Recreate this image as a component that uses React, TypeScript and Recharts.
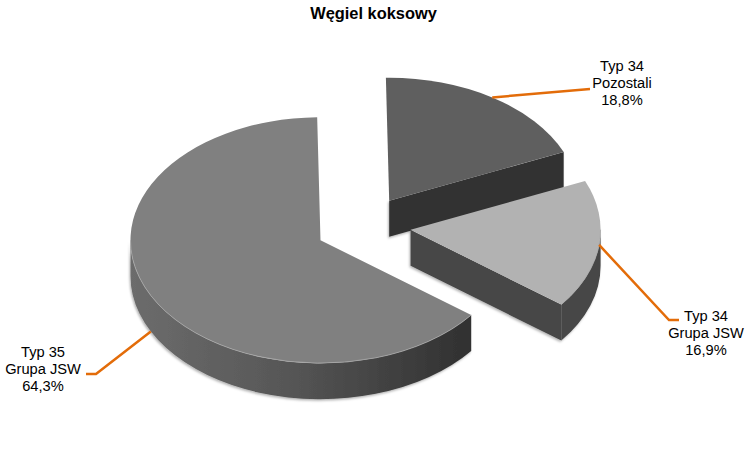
import { Pie, PieChart } from "recharts";

const SLICE_NAMES = ["Typ 34 Pozostali", "Typ 34 Grupa JSW", "Typ 35 Grupa JSW"];
const SLICE_VALUES = [18.8, 16.9, 64.3];
const LABEL_LINES = [
  ["Typ 34", "Pozostali", "18,8%"],
  ["Typ 34", "Grupa JSW", "16,9%"],
  ["Typ 35", "Grupa JSW", "64,3%"],
];

const TOP_COLORS = ["#5f5f5f", "#b2b2b2", "#808080"];
const WALL_COLORS = ["#333333", "#464646", "#333333"];
const EXPLODE = [52, 53, 42];
// small corrections on top of the radial explode
const NUDGE = [
  [3, 0.5],
  [0, -3],
  [0, -0.5],
];
const TILT = 0.647;
const DEPTH = 36;
const LEADER = "#e36c09";
const FONT = '"Liberation Sans", Arial, sans-serif';

// leader elbows and text anchors, per slice
const LABEL_LAYOUT = [
  { elbow: null, end: [590, 89], textX: 622, textY: 71, drop: 0 },
  { elbow: [669, 320], end: [679, 320], textX: 706, textY: 321, drop: 0 },
  { elbow: [96, 374], end: [86, 374], textX: 43, textY: 357, drop: DEPTH },
];

const data = SLICE_NAMES.map((name, i) => ({ name, value: SLICE_VALUES[i] }));

const RAD = Math.PI / 180;

function sliceCenter(props: any, index: number) {
  const off = EXPLODE[index];
  return {
    x: props.cx + off * Math.cos(props.midAngle * RAD) + NUDGE[index][0],
    y: props.cy - off * TILT * Math.sin(props.midAngle * RAD) + NUDGE[index][1],
  };
}

function rimPoint(c: { x: number; y: number }, r: number, angle: number, dy = 0) {
  return {
    x: c.x + r * Math.cos(angle * RAD),
    y: c.y - r * TILT * Math.sin(angle * RAD) + dy,
  };
}

function SliceShape(props: any) {
  const index: number = props.index ?? 0;
  const r: number = props.outerRadius;
  const ry = r * TILT;
  const c = sliceCenter(props, index);
  const start: number = props.startAngle;
  const end: number = props.endAngle;
  const a = rimPoint(c, r, start);
  const b = rimPoint(c, r, end);
  const large = start - end > 180 ? 1 : 0;
  const top = `M${c.x},${c.y} L${a.x},${a.y} A${r},${ry} 0 ${large} 1 ${b.x},${b.y} Z`;

  // outer rim: only the part facing the viewer (lower half of the ellipse)
  const rimFrom = Math.min(start, 0);
  const rimTo = Math.max(end, -180);
  let rim = "";
  let edge = "";
  if (rimFrom > rimTo) {
    const p0 = rimPoint(c, r, rimFrom);
    const p1 = rimPoint(c, r, rimTo);
    const q0 = rimPoint(c, r, rimFrom, DEPTH);
    const q1 = rimPoint(c, r, rimTo, DEPTH);
    rim = `M${p0.x},${p0.y} A${r},${ry} 0 0 1 ${p1.x},${p1.y} L${q1.x},${q1.y} A${r},${ry} 0 0 0 ${q0.x},${q0.y} Z`;
    edge = `M${p0.x},${p0.y} A${r},${ry} 0 0 1 ${p1.x},${p1.y}`;
  }

  // cut face at the end of the sweep, seen only while it faces down
  const sinEnd = Math.sin((90 - end) * RAD);
  const face =
    sinEnd > 0.01
      ? `M${c.x},${c.y} L${b.x},${b.y} L${b.x},${b.y + DEPTH} L${c.x},${c.y + DEPTH} Z`
      : "";

  const wallFill = index === 2 ? "url(#rimShade)" : WALL_COLORS[index];
  return (
    <g>
      <g filter="url(#softShadow)">
        {face && <path d={face} fill={WALL_COLORS[index]} />}
        {rim && <path d={rim} fill={wallFill} />}
      </g>
      <path d={top} fill={TOP_COLORS[index]} />
      {edge && <path d={edge} fill="none" stroke="#a8a8a8" strokeWidth={0.8} />}
    </g>
  );
}

function SliceLabel(props: any) {
  const index: number = props.index ?? 0;
  const layout = LABEL_LAYOUT[index];
  const c = sliceCenter(props, index);
  const s = rimPoint(c, props.outerRadius, props.midAngle, layout.drop);
  const pts = [[s.x, s.y], layout.elbow, layout.end].filter(Boolean) as number[][];
  return (
    <g>
      <polyline
        points={pts.map((p) => p.join(",")).join(" ")}
        fill="none"
        stroke={LEADER}
        strokeWidth={2.5}
      />
      <text
        x={layout.textX}
        y={layout.textY}
        textAnchor="middle"
        fontFamily={FONT}
        fontSize={14.67}
        fill="#000"
      >
        {LABEL_LINES[index].map((line, i) => (
          <tspan key={line} x={layout.textX} dy={i === 0 ? 0 : 16.8}>
            {line}
          </tspan>
        ))}
      </text>
    </g>
  );
}

export default function App() {
  return (
    <div style={{ position: "absolute", left: 0, top: 0, width: 750, height: 450, background: "#fff" }}>
      <PieChart width={750} height={450} margin={{ top: 0, right: 0, bottom: 0, left: 0 }}>
        <defs>
          <linearGradient id="rimShade" x1="0" y1="0" x2="1" y2="0">
            <stop offset="0%" stopColor="#6c6c6c" />
            <stop offset="45%" stopColor="#575757" />
            <stop offset="100%" stopColor="#303030" />
          </linearGradient>
          <filter id="softShadow" x="-5%" y="-5%" width="110%" height="110%">
            <feDropShadow dx={-1} dy={1.5} stdDeviation={1.2} floodColor="#000" floodOpacity={0.3} />
          </filter>
        </defs>
        <text
          x={373.5}
          y={19}
          textAnchor="middle"
          fontFamily={FONT}
          fontSize={16.4}
          fontWeight="bold"
          fill="#000"
        >
          Węgiel koksowy
        </text>
        <Pie
          data={data}
          dataKey="value"
          nameKey="name"
          cx={358}
          cy={228.5}
          innerRadius={0}
          outerRadius={190}
          startAngle={91}
          endAngle={-269}
          paddingAngle={0}
          stroke="none"
          shape={SliceShape}
          label={SliceLabel}
          labelLine={false}
          isAnimationActive={false}
        />
      </PieChart>
    </div>
  );
}
